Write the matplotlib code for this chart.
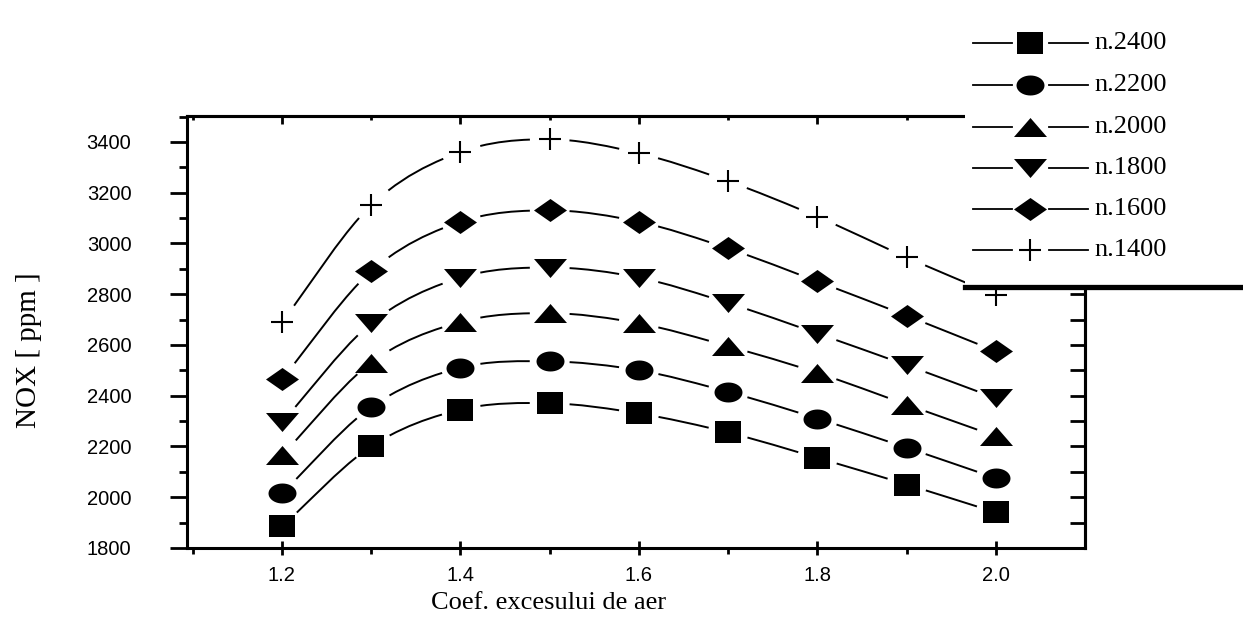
import numpy as np
import matplotlib
matplotlib.use('Agg')
import matplotlib.pyplot as plt
from matplotlib.path import Path
from matplotlib.patches import PathPatch
from matplotlib.ticker import MultipleLocator

# --- data ---
coef = [1.2, 1.3, 1.4, 1.5, 1.6, 1.7, 1.8, 1.9, 2.0]
n2400 = [1885, 2200, 2345, 2370, 2330, 2255, 2155, 2050, 1940]
n2200 = [2015, 2355, 2510, 2535, 2500, 2415, 2310, 2195, 2075]
n2000 = [2165, 2530, 2690, 2725, 2685, 2595, 2490, 2365, 2240]
n1800 = [2295, 2685, 2865, 2905, 2865, 2765, 2645, 2520, 2390]
n1600 = [2465, 2890, 3085, 3130, 3085, 2980, 2850, 2715, 2575]
n1400 = [2690, 3150, 3360, 3410, 3355, 3245, 3105, 2945, 2795]
labels = ['n.2400', 'n.2200', 'n.2000', 'n.1800', 'n.1600', 'n.1400']
x_ticks = [1.2, 1.4, 1.6, 1.8, 2.0]
y_ticks = [1800, 2000, 2200, 2400, 2600, 2800, 3000, 3200, 3400]

SERIF = ['Liberation Serif', 'DejaVu Serif']
SANS = ['Liberation Sans', 'DejaVu Sans']

# scanned markers are a bit wider than tall
def _ellipse(w, h):
    t = np.linspace(0, 2 * np.pi, 41)
    return [(w * np.cos(a), h * np.sin(a)) for a in t]

MK_SQUARE = [(-13, -11), (13, -11), (13, 11), (-13, 11), (-13, -11)]
MK_CIRCLE = _ellipse(14, 10)
MK_UP = [(-16.5, -9.5), (16.5, -9.5), (0, 9.5), (-16.5, -9.5)]
MK_DOWN = [(-16.5, 9.5), (16.5, 9.5), (0, -9.5), (-16.5, 9.5)]
MK_DIAMOND = [(-16.5, 0), (0, 11.5), (16.5, 0), (0, -11.5), (-16.5, 0)]
markers = [(MK_SQUARE, 26), (MK_CIRCLE, 28), (MK_UP, 33), (MK_DOWN, 33),
           (MK_DIAMOND, 33), ('+', 23)]


def _split(c, t):
    p01 = (1 - t) * c[0] + t * c[1]
    p12 = (1 - t) * c[1] + t * c[2]
    p23 = (1 - t) * c[2] + t * c[3]
    p012 = (1 - t) * p01 + t * p12
    p123 = (1 - t) * p12 + t * p23
    m = (1 - t) * p012 + t * p123
    return np.array([c[0], p01, p012, m]), np.array([m, p123, p23, c[3]])


def _sub(c, a, b):
    _, right = _split(c, a)
    left, _ = _split(right, (b - a) / (1 - a))
    return left


def spline_with_gaps(ax, xs, ys, gap_px=20, **kw):
    pts = np.column_stack([xs, ys]).astype(float)
    n = len(pts)
    tang = np.zeros_like(pts)
    tang[0] = pts[1] - pts[0]
    tang[-1] = pts[-1] - pts[-2]
    tang[1:-1] = (pts[2:] - pts[:-2]) / 2
    verts, codes = [], []
    for i in range(n - 1):
        c = np.array([pts[i], pts[i] + tang[i] / 3,
                      pts[i + 1] - tang[i + 1] / 3, pts[i + 1]])
        d = ax.transData.transform(c[[0, 3]])
        length = np.hypot(*(d[1] - d[0]))
        a = gap_px / length
        seg = _sub(c, a, 1 - a)
        verts += list(seg)
        codes += [Path.MOVETO, Path.CURVE4, Path.CURVE4, Path.CURVE4]
    ax.add_patch(PathPatch(Path(verts, codes), fill=False, **kw))


def draw_marker(target, xs, ys, mk, wpx, **kw):
    if isinstance(mk, str):
        target.plot(xs, ys, ls='none', marker=mk, ms=wpx * 0.72, mew=1.5,
                    color='black', **kw)
    else:
        target.plot(xs, ys, ls='none', marker=mk, ms=wpx * 0.72,
                    mfc='black', mec='black', mew=0, **kw)


fig = plt.figure(figsize=(12.43, 6.21), dpi=100)
ax = fig.add_axes([0.1504, 0.1176, 0.7225, 0.6956])
ax.set_xlim(1.0936, 2.0997)
ax.set_ylim(1800, 3502)

all_series = [n2400, n2200, n2000, n1800, n1600, n1400]
for vals, (mk, wpx) in zip(all_series, markers):
    spline_with_gaps(ax, coef, vals, gap_px=20, lw=1.4, color='black', zorder=2)
    draw_marker(ax, coef, vals, mk, wpx, zorder=3)

for s in ax.spines.values():
    s.set_linewidth(2.2)

ax.set_xticks(x_ticks)
ax.xaxis.set_minor_locator(MultipleLocator(0.1))
ax.set_yticks(y_ticks)
ax.yaxis.set_minor_locator(MultipleLocator(100))
ax.set_xticklabels([f'{v:.1f}' for v in x_ticks])
ax.tick_params(axis='y', which='major', direction='out', length=12, width=2, pad=28)
ax.tick_params(axis='y', which='minor', direction='out', length=6, width=2)
ax.tick_params(axis='x', which='major', direction='inout', length=10, width=2, pad=8)
ax.tick_params(axis='x', which='minor', direction='out', length=4, width=2)
for lab in ax.get_xticklabels() + ax.get_yticklabels():
    lab.set_family(SANS)
    lab.set_fontsize(14.5)

sec_x = ax.secondary_xaxis('top')
sec_x.set_xticks(x_ticks)
sec_x.xaxis.set_minor_locator(MultipleLocator(0.1))
sec_x.tick_params(which='major', direction='in', length=6, width=2, labeltop=False)
sec_x.tick_params(which='minor', direction='in', length=3, width=2)
sec_x.spines['top'].set_linewidth(2.2)

sec_y = ax.secondary_yaxis('right')
sec_y.set_yticks(y_ticks)
sec_y.yaxis.set_minor_locator(MultipleLocator(100))
sec_y.tick_params(which='both', direction='in', length=11, width=2, labelright=False)
sec_y.spines['right'].set_linewidth(2.2)

fig.text(0.4417, 0.029, 'Coef. excesului de aer', family=SERIF, fontsize=19,
         ha='center', va='center')
fig.text(0.0233, 0.4364, 'NOX [ ppm ]', family=SERIF, fontsize=21,
         rotation=90, ha='center', va='center')

# legend panel (white box with a heavy bottom rule, overlapping the plot)
leg = fig.add_axes([965 / 1243, 1 - 287 / 621, 1 - 965 / 1243, 287 / 621], zorder=5)
leg.set_xlim(965, 1243)
leg.set_ylim(287, 0)
leg.set_facecolor('white')
for side in ['top', 'left', 'right']:
    leg.spines[side].set_visible(False)
leg.spines['bottom'].set_linewidth(3.8)
leg.set_xticks([])
leg.set_yticks([])
row_y = [43, 85, 127, 168, 209, 250]
for ry, (mk, wpx), lab in zip(row_y, markers, labels):
    leg.plot([973, 1012], [ry, ry], color='black', lw=1.3)
    leg.plot([1049, 1088], [ry, ry], color='black', lw=1.3)
    draw_marker(leg, [1030], [ry], mk, wpx)
    leg.text(1094, ry, lab, family=SERIF, fontsize=19, ha='left', va='center')

fig.savefig('out.png', dpi=100)
